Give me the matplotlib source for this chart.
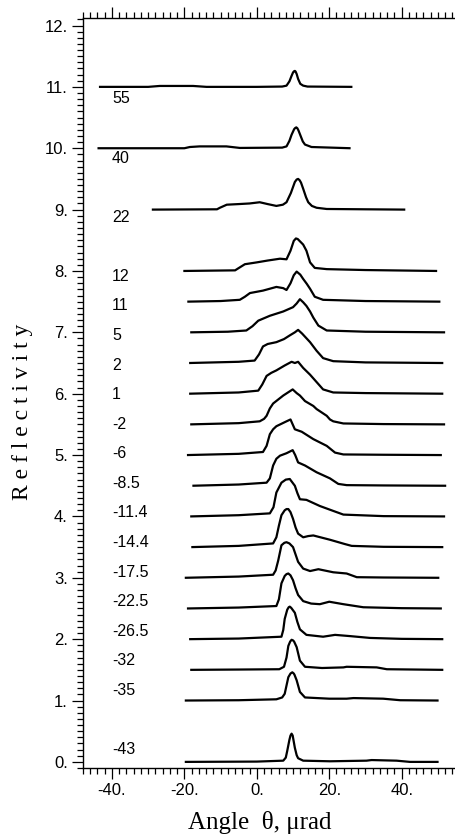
import matplotlib
matplotlib.use("Agg")
import matplotlib.pyplot as plt
from matplotlib.ticker import MultipleLocator, FuncFormatter

# curve labels and vertical offsets
labels = ["55", "40", "22", "12", "11", "5", "2", "1", "-2", "-6", "-8.5",
          "-11.4", "-14.4", "-17.5", "-22.5", "-26.5", "-32", "-35", "-43"]
offsets = [11, 10, 9, 8, 7.5, 7, 6.5, 6, 5.5, 5, 4.5,
           4, 3.5, 3, 2.5, 2, 1.5, 1, 0]

# angle (urad) / reflectivity pairs, one pair per curve
x_55 = [-43.6, -30, -26.8, -17.6, -13.9, 0, 7.0, 8.2, 9.0, 9.6, 10.0, 10.3, 10.5, 10.7, 11.0, 11.4, 12.0, 12.8, 14.0, 26.4]
r_55 = [0, 0, 0.015, 0.015, 0, 0, 0.005, 0.02, 0.09, 0.18, 0.235, 0.255, 0.26, 0.25, 0.21, 0.13, 0.05, 0.02, 0.005, 0]

x_40 = [-44, -20, -18.5, -15.8, -8.4, -4.7, 7.0, 8.2, 9.0, 9.6, 10.3, 10.6, 10.9, 11.2, 11.5, 12.1, 12.7, 13.3, 15.1, 25.9]
r_40 = [0, 0, 0.02, 0.03, 0.03, 0.005, 0.01, 0.03, 0.12, 0.22, 0.31, 0.33, 0.34, 0.325, 0.29, 0.20, 0.11, 0.06, 0.02, 0]

x_22 = [-29, -11, -10.2, -8.3, -5, -2, 0.8, 3, 5.4, 7.2, 8.2, 9.4, 10.5, 11.0, 11.4, 11.8, 12.2, 12.8, 13.6, 14.2, 15.2, 16.5, 19.3, 30, 41]
r_22 = [0, 0.005, 0.03, 0.08, 0.09, 0.1, 0.12, 0.09, 0.06, 0.08, 0.12, 0.27, 0.45, 0.49, 0.5, 0.48, 0.44, 0.34, 0.2, 0.12, 0.06, 0.03, 0.01, 0.005, 0]

x_12 = [-20.3, -6, -5.2, -3.3, 0, 3, 6.4, 8.2, 9.3, 10.2, 10.8, 11.3, 11.8, 12.8, 13.7, 14.7, 16.0, 19.3, 30, 49.8]
r_12 = [0, 0.01, 0.04, 0.11, 0.14, 0.17, 0.2, 0.19, 0.33, 0.49, 0.53, 0.52, 0.49, 0.43, 0.33, 0.14, 0.05, 0.03, 0.015, 0]

x_11 = [-19.2, -10, -4.7, -3.3, -1.9, 1.7, 5.4, 7.3, 8.2, 9.3, 10.2, 11.0, 12.0, 12.8, 13.8, 14.7, 16.0, 18.3, 30, 50.7]
r_11 = [0, 0.01, 0.03, 0.08, 0.14, 0.18, 0.24, 0.22, 0.19, 0.3, 0.43, 0.49, 0.44, 0.37, 0.29, 0.21, 0.08, 0.03, 0.01, 0]

x_5 = [-18.4, -8, -2.9, -1.2, 0.4, 3.6, 7.3, 10.0, 11.0, 11.9, 12.8, 13.7, 14.7, 15.6, 17.0, 19.3, 30, 52]
r_5 = [0, 0.01, 0.03, 0.1, 0.19, 0.27, 0.34, 0.41, 0.47, 0.54, 0.49, 0.43, 0.34, 0.24, 0.11, 0.03, 0.01, 0]

x_2 = [-18.7, -5, -0.6, 0.6, 1.7, 3.0, 5.4, 7.5, 9.1, 10.5, 11.4, 12.5, 14.7, 16.5, 18.3, 21.1, 30, 51.5]
r_2 = [0, 0.02, 0.04, 0.14, 0.27, 0.31, 0.34, 0.39, 0.45, 0.5, 0.54, 0.48, 0.34, 0.2, 0.08, 0.03, 0.01, 0]

x_1 = [-18.7, -5, 0.4, 1.5, 2.7, 4.0, 5.4, 7.7, 9.6, 10.5, 11.4, 12.8, 14.7, 16.5, 18.3, 21.1, 30, 51.5]
r_1 = [0, 0.02, 0.05, 0.15, 0.29, 0.34, 0.38, 0.46, 0.52, 0.5, 0.52, 0.42, 0.31, 0.19, 0.07, 0.02, 0.01, 0]

x_m2 = [-18.4, -5, 0.8, 2.0, 2.7, 3.6, 4.5, 7.3, 9.9, 11.0, 11.9, 13.3, 15.6, 16.5, 19.3, 20.2, 21.1, 23.9, 35, 52]
r_m2 = [0, 0.02, 0.05, 0.09, 0.14, 0.26, 0.34, 0.47, 0.57, 0.51, 0.47, 0.38, 0.3, 0.25, 0.14, 0.08, 0.05, 0.015, 0.005, 0]

x_m6 = [-19.3, -5, 1.7, 2.7, 3.6, 4.5, 5.4, 8.2, 9.3, 10.5, 12.4, 15.6, 19.3, 21.6, 23.9, 35, 51.1]
r_m6 = [0, 0.02, 0.05, 0.15, 0.34, 0.42, 0.47, 0.55, 0.58, 0.42, 0.38, 0.26, 0.15, 0.04, 0.01, 0.005, 0]

x_m8 = [-17.8, -5, 2.7, 3.6, 4.5, 5.4, 6.4, 8.2, 9.9, 10.6, 11.4, 13.3, 16.5, 20.2, 22.5, 24.8, 35, 52.3]
r_m8 = [0, 0.02, 0.05, 0.12, 0.33, 0.44, 0.49, 0.53, 0.58, 0.5, 0.38, 0.33, 0.22, 0.12, 0.03, 0.01, 0.005, 0]

x_m11 = [-18.4, -5, 3.6, 4.6, 5.4, 6.8, 8.0, 9.1, 10.5, 11.2, 11.9, 13.7, 17.4, 21.1, 23.9, 35, 52]
r_m11 = [0, 0.02, 0.05, 0.15, 0.39, 0.55, 0.6, 0.61, 0.5, 0.38, 0.28, 0.27, 0.17, 0.09, 0.03, 0.005, 0]

x_m14 = [-18.1, -5, 4.5, 5.4, 6.1, 6.8, 7.7, 8.2, 8.7, 9.3, 10.0, 10.7, 11.4, 12.8, 14.2, 15.6, 20.2, 24.3, 26.2, 35, 51.5]
r_m14 = [0, 0.02, 0.06, 0.16, 0.35, 0.52, 0.6, 0.62, 0.62, 0.57, 0.46, 0.32, 0.22, 0.16, 0.18, 0.19, 0.12, 0.05, 0.02, 0.005, 0]

x_m17 = [-19.9, -5, 4.5, 5.2, 5.9, 6.8, 7.6, 8.2, 9.0, 10.0, 10.7, 11.4, 12.8, 14.7, 17.0, 21.1, 24.8, 27.6, 35, 50.4]
r_m17 = [0, 0.02, 0.05, 0.12, 0.28, 0.53, 0.57, 0.58, 0.56, 0.5, 0.38, 0.26, 0.15, 0.11, 0.14, 0.09, 0.07, 0.01, 0.005, 0]

x_m22 = [-19.3, -5, 5.4, 6.1, 6.8, 7.7, 8.2, 8.7, 9.3, 10.0, 10.7, 11.4, 12.8, 15, 17.4, 20.0, 23.9, 29.4, 40, 51.1]
r_m22 = [0, 0.015, 0.04, 0.15, 0.41, 0.53, 0.56, 0.57, 0.54, 0.46, 0.33, 0.22, 0.12, 0.08, 0.07, 0.11, 0.07, 0.02, 0.005, 0]

x_m26 = [-18.7, -5, 6.8, 7.3, 7.7, 8.4, 8.8, 9.1, 9.5, 10.5, 11.2, 11.9, 13.7, 18.3, 21.6, 25.7, 31.3, 40, 51.5]
r_m26 = [0, 0.01, 0.04, 0.15, 0.33, 0.48, 0.52, 0.53, 0.51, 0.43, 0.28, 0.16, 0.07, 0.04, 0.07, 0.05, 0.02, 0.005, 0]

x_m32 = [-18.4, -5, 6.2, 7.5, 8.2, 8.7, 9.2, 9.6, 10.0, 10.3, 11.0, 11.9, 13.3, 18, 23.9, 24.8, 33.1, 35.9, 51.5]
r_m32 = [0, 0.005, 0.01, 0.05, 0.2, 0.39, 0.46, 0.49, 0.48, 0.46, 0.37, 0.15, 0.05, 0.03, 0.04, 0.05, 0.04, 0.01, 0]

x_m35 = [-19.9, -5, 5.4, 7.0, 7.7, 8.7, 9.3, 9.8, 10.2, 10.4, 11.0, 11.9, 13.3, 20, 24.8, 26.7, 34.9, 39.6, 50.2]
r_m35 = [0, 0.005, 0.02, 0.05, 0.11, 0.38, 0.44, 0.46, 0.44, 0.42, 0.33, 0.14, 0.05, 0.03, 0.03, 0.04, 0.03, 0.005, 0]

x_m43 = [-19.9, 0, 7.3, 8.0, 8.4, 9.0, 9.3, 9.6, 9.9, 10.2, 10.5, 11.0, 11.4, 12.8, 20.2, 30.3, 31.7, 38.6, 42.3, 50.2]
r_m43 = [0, 0.005, 0.02, 0.07, 0.18, 0.36, 0.43, 0.46, 0.43, 0.33, 0.23, 0.11, 0.06, 0.02, 0.01, 0.02, 0.03, 0.02, 0, 0]

xs = [x_55, x_40, x_22, x_12, x_11, x_5, x_2, x_1, x_m2, x_m6, x_m8,
      x_m11, x_m14, x_m17, x_m22, x_m26, x_m32, x_m35, x_m43]
rs = [r_55, r_40, r_22, r_12, r_11, r_5, r_2, r_1, r_m2, r_m6, r_m8,
      r_m11, r_m14, r_m17, r_m22, r_m26, r_m32, r_m35, r_m43]

plt.rcParams["font.family"] = ["Liberation Sans", "DejaVu Sans"]

W, H = 456, 836
fig = plt.figure(figsize=(W / 100, H / 100), dpi=100)
ax = fig.add_axes([0.182, 0.0813, 0.818, 0.897])

for lab, off, x, r in zip(labels, offsets, xs, rs):
    ax.plot(x, [off + v for v in r], color="black", lw=1.6,
            solid_joinstyle="round", solid_capstyle="butt")
    ax.text(-40, 0.964 * off + 0.2, lab, ha="left", va="center", fontsize=11.5)

ax.set_xlim(-48, 55)
ax.set_ylim(-0.1, 12.12)

ax.xaxis.set_major_locator(MultipleLocator(20))
ax.xaxis.set_minor_locator(MultipleLocator(2))
ax.yaxis.set_major_locator(MultipleLocator(1))
ax.yaxis.set_minor_locator(MultipleLocator(0.1))
dotfmt = FuncFormatter(lambda v, p: "%d." % round(v))
ax.xaxis.set_major_formatter(dotfmt)
ax.yaxis.set_major_formatter(dotfmt)

ax.tick_params(which="both", direction="out", width=0.9, top=True,
               right=False, labelsize=12, pad=3)
ax.tick_params(which="major", length=8)
ax.tick_params(which="minor", length=4.5)
ax.spines["right"].set_visible(False)
for s in ["left", "bottom", "top"]:
    ax.spines[s].set_linewidth(1.0)

# axis titles placed where they sit in the original
fig.text(260 / W, 1 - 822 / H, "Angle  θ, μrad", fontsize=18,
         family="Liberation Serif", ha="center", va="center")
fig.text(23 / W, 1 - 412 / H, "R e f l e c t i v i t y", fontsize=17,
         family="Liberation Serif", ha="center", va="center", rotation=90)

fig.savefig("out.png", dpi=100)
